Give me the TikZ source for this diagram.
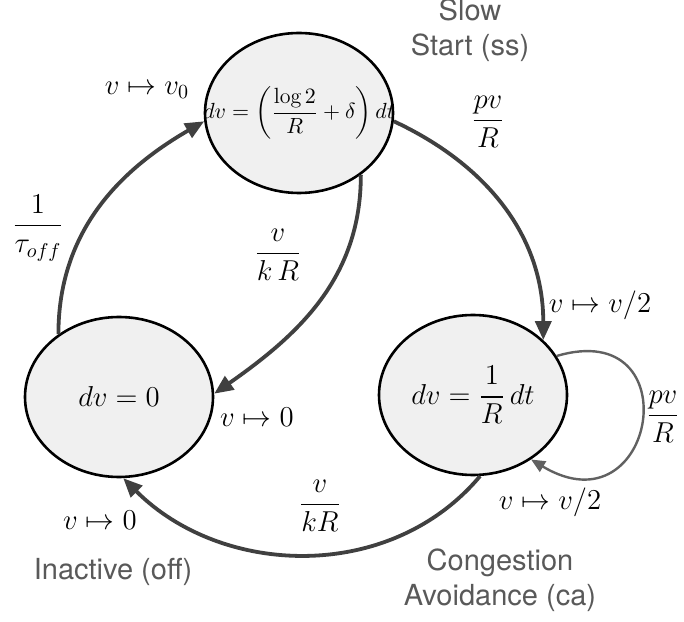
\documentclass[tikz,border=0pt]{standalone}
\usepackage{amsmath}
\usepackage{fontspec}
\setsansfont{TeX Gyre Heros}
\usetikzlibrary{arrows.meta,shapes.geometric}

\begin{document}
\begin{tikzpicture}[x=0.5pt, y=0.5pt,
  st/.style={draw, ellipse, line width=1.3pt, fill=gray!12, minimum width=94pt, minimum height=80pt, inner sep=0pt},
  eq/.style={font=\fontsize{14.4}{17}\selectfont, inner sep=0pt},
  lab/.style={font=\fontsize{14.4}{17}\selectfont, inner sep=0pt},
  statelab/.style={font=\sffamily\fontsize{14.5}{17.5}\selectfont, text=black!65, align=center, inner sep=0pt},
  arr/.style={-{Triangle[length=9.5pt, width=8pt]}, line width=1.9pt, draw=black!75},
  selfarr/.style={-{Triangle[length=7pt, width=6pt]}, line width=1.2pt, draw=black!62}]
\useasboundingbox (0,0) rectangle (684,621);
\node[st] (ss) at (299,508) {};
\node[st] (off) at (119,224) {};
\node[st] (ca) at (473,226) {};
\node[eq, font=\fontsize{11}{13}\selectfont] (sseq) at (ss) {$dv=\left(\dfrac{\log 2}{R}+\delta\right)dt$};
\node[eq] (offeq) at (off) {$dv=0$};
\node[eq] (caeq) at (ca) {$dv=\dfrac{1}{R}\,dt$};
\draw[arr] (off.134) to[out=90, in=210] (ss.185);
\draw[arr] (ss.355) to[out=-25, in=90] (ca.38);
\draw[arr] (ss.-45) to[out=-90, in=35] (off.2);
\draw[arr] (ca.-85) to[out=-130, in=-45] (off.-87);
\draw[selfarr] (ca.25) .. controls +(135,40) and +(125,-75) .. (ca.-48);
\node[lab] (toff) at (38,393) {$\dfrac{1}{\tau_{off}}$};
\node[lab] (vzero) at (147,531) {$v\mapsto v_0$};
\node[lab] (pvss) at (488,499) {$\dfrac{pv}{R}$};
\node[lab] (halfss) at (600,316) {$v\mapsto v/2$};
\node[lab] (kross) at (278,366) {$\dfrac{v}{k\,R}$};
\node[lab] (nullss) at (257,204) {$v\mapsto 0$};
\node[lab] (kroca) at (320,115) {$\dfrac{v}{kR}$};
\node[lab] (nullca) at (100,101) {$v\mapsto 0$};
\node[lab] (pvca) at (663,204) {$\dfrac{pv}{R}$};
\node[lab] (halfca) at (550,119) {$v\mapsto v/2$};
\node[statelab] (nss) at (470,591) {Slow\\Start (ss)};
\node[statelab] (noff) at (113,49) {Inactive (off)};
\node[statelab] (nca) at (500,41) {Congestion\\Avoidance (ca)};
\end{tikzpicture}
\end{document}
